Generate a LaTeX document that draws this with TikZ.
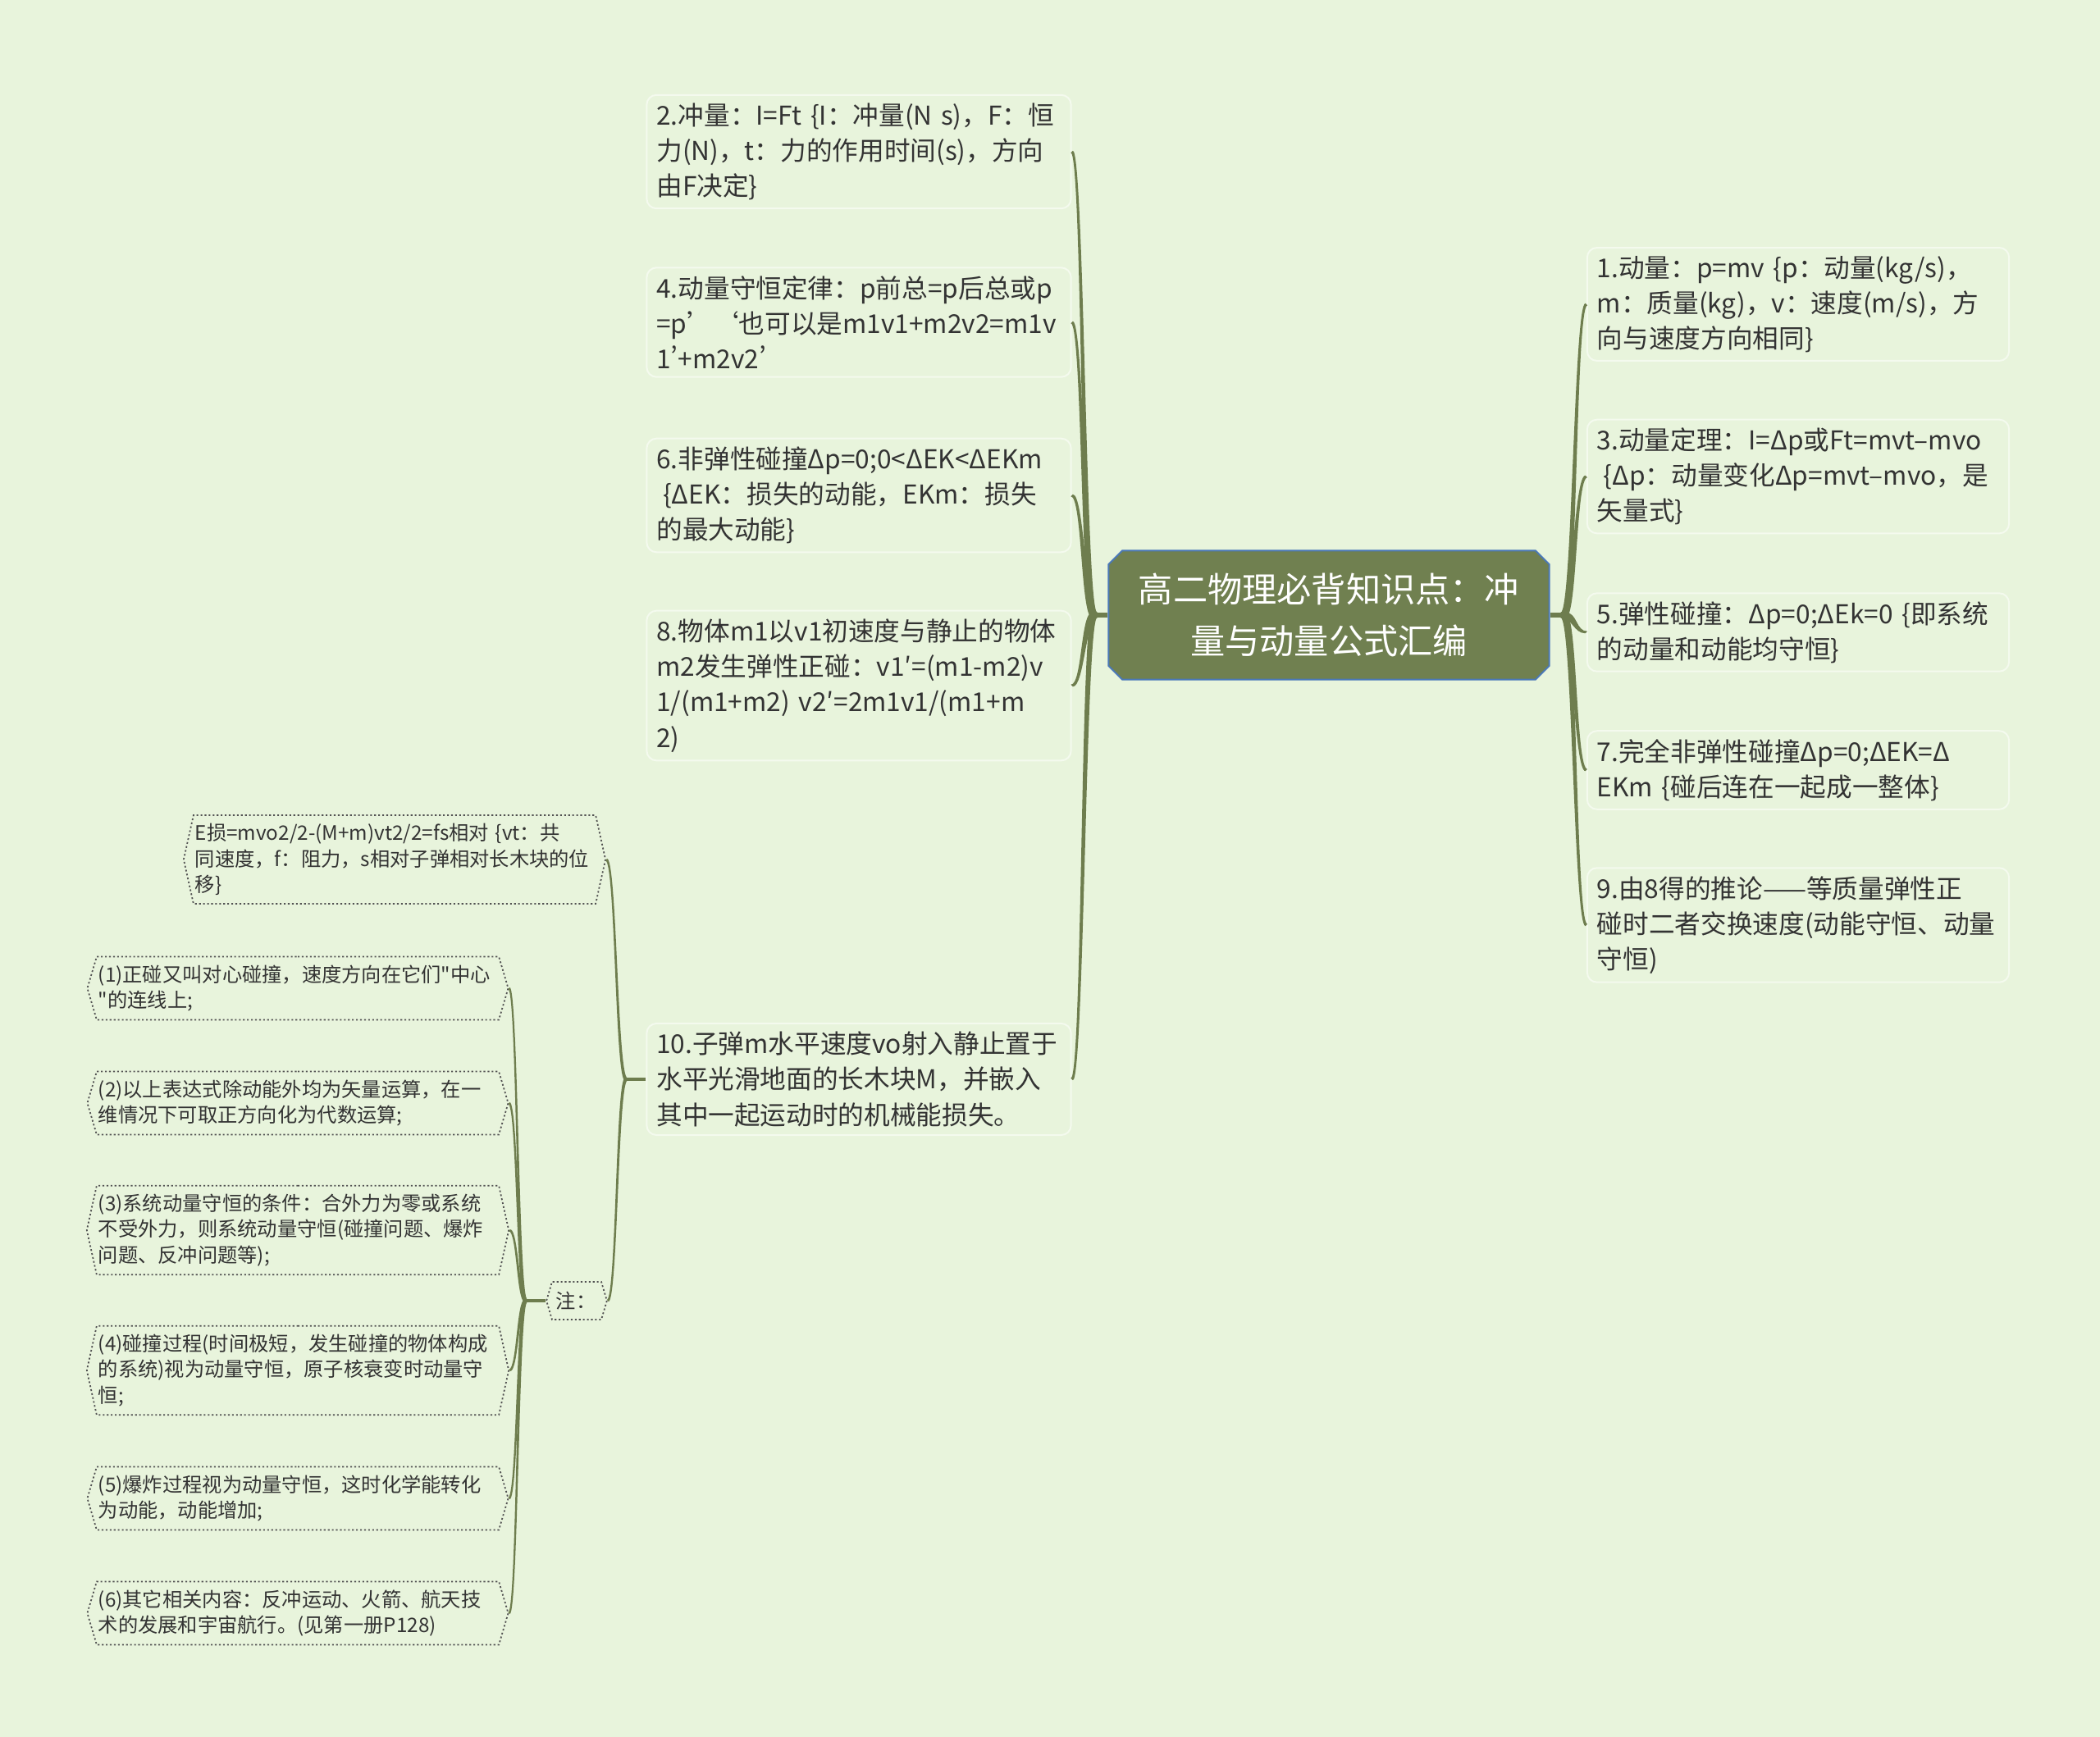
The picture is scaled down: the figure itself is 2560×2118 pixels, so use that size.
\documentclass[tikz,border=0pt]{standalone}
\usepackage{fontspec}
\setmainfont{Noto Sans CJK SC}[Ligatures=TeXOff]
\usetikzlibrary{calc,shapes.misc,shapes.symbols}
\definecolor{bgcol}{HTML}{E8F4DC}
\definecolor{rootcol}{HTML}{708050}
\definecolor{rootline}{HTML}{4A78B8}
\definecolor{limbcol}{HTML}{6E7D4E}
\definecolor{boxline}{HTML}{F4FAEE}
\definecolor{inkcol}{HTML}{333333}
\newcommand\pq[1]{{\addfontfeatures{RawFeature=+pwid}#1}}
\tikzset{
    % Stile per il nodo centrale (rettangolo smussato)
    rootbox/.style={chamfered rectangle, chamfered rectangle xsep=0.04cm,
                    fill=rootcol, draw=rootline, line width=0.02cm,
                    text=white, align=center,
                    minimum width=5.37cm, minimum height=1.57cm,
                    font=\fontsize{12pt}{18pt}\selectfont},
    % Stile per i rami (riquadro arrotondato chiaro)
    leafbox/.style={draw=boxline, line width=0.02cm, rounded corners=0.12cm,
                    text=inkcol, align=left, text width=4.93cm,
                    inner xsep=0.12cm, inner ysep=0.1cm,
                    font=\fontsize{9pt}{12.3pt}\selectfont},
    % Stile per le note (esagono punteggiato)
    notebox/.style={signal, signal to=east and west, signal pointer angle=#1,
                    draw=inkcol!85, line width=0.5pt,
                    dash pattern=on 0.6pt off 0.8pt,
                    text=inkcol, align=left, text width=4.86cm,
                    inner xsep=0.02cm, inner ysep=0.1cm,
                    font=\fontsize{6.9pt}{9pt}\selectfont},
    notebox/.default=147
}
% ramo affusolato: da #1 a #2, semispessore iniziale #3 e finale #4
\newcommand\limb[4]{%
  \fill[limbcol] let \p1=(#1), \p2=(#2), \n1={sign(\y2-\y1)*sign(\x1-\x2)} in
    ({\x1+\n1*#3},{\y1+#3}) .. controls ({(\x1+\x2)/2+\n1*#3},{\y1+#3}) and ({(\x1+\x2)/2+\n1*#4},{\y2+#4}) .. ({\x2+\n1*#4},{\y2+#4})
    -- ({\x2-\n1*#4},{\y2-#4}) .. controls ({(\x1+\x2)/2-\n1*#4},{\y2-#4}) and ({(\x1+\x2)/2-\n1*#3},{\y1-#3}) .. ({\x1-\n1*#3},{\y1-#3}) -- cycle;}

\begin{document}
\begin{tikzpicture}[x=0.01cm, y=-0.01cm]
  \fill[bgcol] (0,0) rectangle (2560,2118);
  \useasboundingbox (0,0) rectangle (2560,2118);

  % Nodo centrale
  \node[rootbox] (root) at (1620,750) {高二物理必背知识点：冲\\量与动量公式汇编};

  % Rami a sinistra
  \node[leafbox] (b2) at (1047,185) {2.冲量：I=Ft~\{I：冲量(N~s)，F：恒\\力(N)，t：力的作用时间(s)，方向\\由F决定\}};
  \node[leafbox] (b4) at (1047,393) {4.动量守恒定律：p前总=p后总或p\\=p’‘也可以是m1v1+m2v2=m1v\\1\pq{’}+m2v2\pq{’}};
  \node[leafbox] (b6) at (1047,604) {6.非弹性碰撞Δp=0;0<ΔEK<ΔEKm\\\hspace*{0.25em}\{ΔEK：损失的动能，EKm：损失\\的最大动能\}};
  \node[leafbox] (b8) at (1047,836) {8.物体m1以v1初速度与静止的物体\\m2发生弹性正碰：v1′=(m1-m2)v\\1/(m1+m2)~v2′=2m1v1/(m1+m\\2)};
  \node[leafbox] (b10) at (1047,1316) {10.子弹m水平速度vo射入静止置于\\水平光滑地面的长木块M，并嵌入\\其中一起运动时的机械能损失。};

  % Rami a destra
  \node[leafbox, text width=4.9cm] (b1) at (2192,371) {1.动量：p=mv~\{p：动量(kg/s)，\\m：质量(kg)，v：速度(m/s)，方\\向与速度方向相同\}};
  \node[leafbox, text width=4.9cm] (b3) at (2192,581) {3.动量定理：I=Δp或Ft=\mbox{mvt–mvo}\\\hspace*{0.25em}\{Δp：动量变化Δp=\mbox{mvt–mvo}，是\\矢量式\}};
  \node[leafbox, text width=4.9cm] (b5) at (2192,771) {5.弹性碰撞：Δp=0;ΔEk=0~\{即系统\\的动量和动能均守恒\}};
  \node[leafbox, text width=4.9cm] (b7) at (2192,939) {7.完全非弹性碰撞Δp=0;ΔEK=Δ\\EKm~\{碰后连在一起成一整体\}};
  \node[leafbox, text width=4.9cm] (b9) at (2192,1128) {9.由8得的推论——等质量弹性正\\碰时二者交换速度(动能守恒、动量\\守恒)};

  % Note sotto il ramo 10
  \node[notebox=155] (loss) at (481,1048) {E损=mvo2/2-(M+m)vt2/2=fs相对~\{vt：共\\同速度，f：阻力，s相对子弹相对长木块的位\\移\}};
  \node[notebox, text width=0.5cm, inner xsep=0.05cm, inner ysep=0.12cm] (zhu) at (703,1586) {注：};
  \node[notebox] (n1) at (363,1205) {(1)正碰又叫对心碰撞，速度方向在它们"中心\\"的连线上;};
  \node[notebox] (n2) at (363,1345) {(2)以上表达式除动能外均为矢量运算，在一\\维情况下可取正方向化为代数运算;};
  \node[notebox=155] (n3) at (363,1500) {(3)系统动量守恒的条件：合外力为零或系统\\不受外力，则系统动量守恒(碰撞问题、爆炸\\问题、反冲问题等);};
  \node[notebox=155] (n4) at (363,1671) {(4)碰撞过程(时间极短，发生碰撞的物体构成\\的系统)视为动量守恒，原子核衰变时动量守\\恒;};
  \node[notebox] (n5) at (363,1827) {(5)爆炸过程视为动量守恒，这时化学能转化\\为动能，动能增加;};
  \node[notebox] (n6) at (363,1967) {(6)其它相关内容：反冲运动、火箭、航天技\\术的发展和宇宙航行。(见第一册P128)};

  % Punti di diramazione
  \coordinate (lhub) at ([xshift=-0.16cm]root.west);
  \coordinate (rhub) at ([xshift=0.16cm]root.east);
  \coordinate (shub) at ([xshift=-0.24cm]b10.west);
  \coordinate (zhub) at ([xshift=-0.24cm]zhu.west);

  % Collegamenti
  \draw[limbcol, line width=1.8pt] (root.west) -- (lhub);
  \draw[limbcol, line width=1.8pt] (root.east) -- (rhub);
  \foreach \b in {b2,b4,b6,b8,b10} \limb{lhub}{\b.east}{0.9pt}{0.35pt};
  \foreach \b in {b1,b3,b5,b7,b9} \limb{rhub}{\b.west}{0.9pt}{0.35pt};
  \draw[limbcol, line width=0.9pt] (b10.west) -- (shub);
  \limb{shub}{loss.east}{0.45pt}{0.3pt};
  \limb{shub}{zhu.east}{0.45pt}{0.3pt};
  \draw[limbcol, line width=0.9pt] (zhu.west) -- (zhub);
  \foreach \k in {n1,n2,n3,n4,n5,n6} \limb{zhub}{\k.east}{0.45pt}{0.28pt};
\end{tikzpicture}
\end{document}
